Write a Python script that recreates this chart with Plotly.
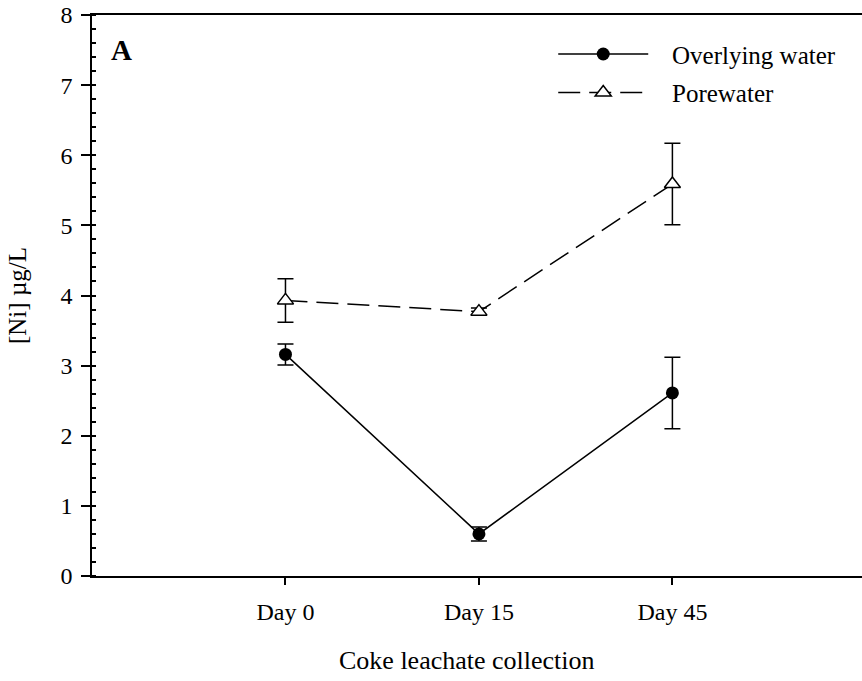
import plotly.graph_objects as go

days = ["Day 0", "Day 15", "Day 45"]
overlying = [3.16, 0.60, 2.61]
overlying_err = [0.15, 0.10, 0.51]
porewater = [3.93, 3.77, 5.59]
porewater_err = [0.31, 0.05, 0.58]
y_ticks = [0, 1, 2, 3, 4, 5, 6, 7, 8]

xpos = list(range(len(days)))
FONT = "Liberation Serif, Times New Roman, serif"
PAD = "\u00a0" * 3

fig = go.Figure()

fig.add_trace(go.Scatter(
    x=xpos, y=overlying, name=PAD + "Overlying water", mode="lines+markers",
    line=dict(color="black", width=1.5),
    marker=dict(symbol="circle", size=13, color="black"),
    error_y=dict(type="data", array=overlying_err, visible=True,
                 color="black", thickness=1.5, width=8),
    legendgroup="a",
))
fig.add_trace(go.Scatter(
    x=xpos, y=porewater, name=PAD + "Porewater", mode="lines+markers",
    line=dict(color="black", width=1.5, dash="22px,9px"),
    marker=dict(symbol="triangle-up", size=14, color="white",
                line=dict(color="black", width=1.5)),
    error_y=dict(type="data", array=porewater_err, visible=True,
                 color="black", thickness=1.5, width=8),
    legendgroup="b",
))

# panel letter
fig.add_annotation(x=0.022, y=0.938, xref="paper", yref="paper",
                   text="<b>A</b>", showarrow=False,
                   font=dict(family=FONT, size=29, color="black"),
                   xanchor="left", yanchor="middle")

# x-axis title
fig.add_annotation(x=0.487, y=0, xref="paper", yref="paper",
                   text="Coke leachate collection", showarrow=False,
                   font=dict(family=FONT, size=26, color="black"),
                   xanchor="center", yanchor="middle", yshift=-84)

fig.update_layout(
    width=862, height=681,
    margin=dict(l=92, r=0, t=15, b=105),
    paper_bgcolor="white", plot_bgcolor="white",
    font=dict(family=FONT, color="black", size=24),
    showlegend=True,
    legend=dict(x=0.599, y=0.971, xanchor="left", yanchor="top",
                font=dict(family=FONT, size=25, color="black"),
                itemwidth=90, tracegroupgap=3, bgcolor="rgba(0,0,0,0)"),
    xaxis=dict(
        range=[-1, 2.98], tickmode="array", tickvals=xpos, ticktext=days,
        showgrid=False, zeroline=False, showline=True, linecolor="black",
        linewidth=1.5, mirror=True, ticks="outside", ticklen=7,
        tickwidth=1.5, tickcolor="black", ticklabelstandoff=6,
        tickfont=dict(family=FONT, size=24),
    ),
    yaxis=dict(
        range=[0, 8], tickvals=y_ticks,
        showgrid=False, zeroline=False, showline=True, linecolor="black",
        linewidth=1.5, ticks="outside", ticklen=9, tickwidth=1.5,
        tickcolor="black", tickfont=dict(family=FONT, size=24),
        ticklabelstandoff=4,
        minor=dict(dtick=0.2, ticks="inside", ticklen=4, tickwidth=1.5,
                   tickcolor="black", showgrid=False),
        title=dict(text="[Ni] µg/L", font=dict(family=FONT, size=25),
                   standoff=27),
    ),
)

fig.write_html("out.html")
